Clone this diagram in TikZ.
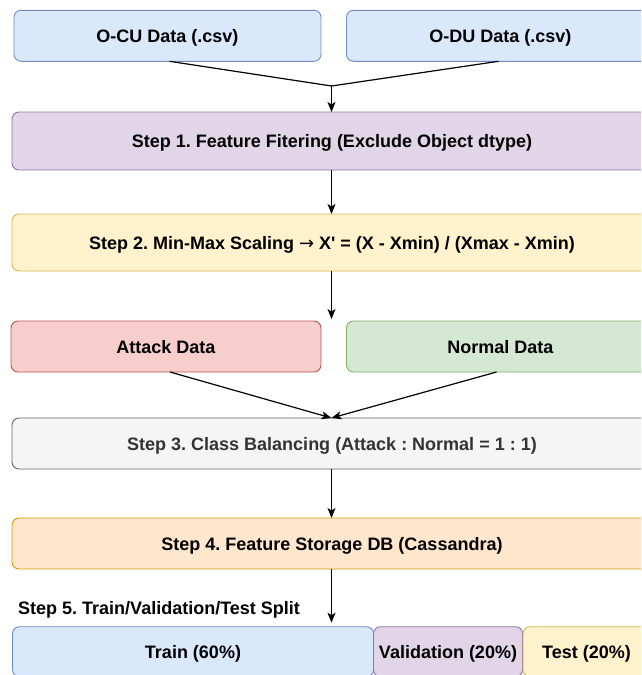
\documentclass[tikz,border=0pt]{standalone}
\usepackage{fontspec}
\setmainfont{Liberation Sans}[Ligatures=TeXOff]
\newfontfamily\arrowfont{DejaVu Sans}
\usetikzlibrary{arrows.meta}
\frenchspacing
\definecolor{bluefill}{HTML}{DAE8FC}\definecolor{bluedraw}{HTML}{6C8EBF}
\definecolor{purpfill}{HTML}{E1D5E7}\definecolor{purpdraw}{HTML}{9673A6}
\definecolor{yelfill}{HTML}{FFF2CC}\definecolor{yeldraw}{HTML}{D6B656}
\definecolor{redfill}{HTML}{F8CECC}\definecolor{reddraw}{HTML}{B85450}
\definecolor{grnfill}{HTML}{D5E8D4}\definecolor{grndraw}{HTML}{82B366}
\definecolor{grayfill}{HTML}{F5F5F5}\definecolor{graydraw}{HTML}{666666}
\definecolor{graytext}{HTML}{333333}
\definecolor{orgfill}{HTML}{FFE6CC}\definecolor{orgdraw}{HTML}{D79B00}
\tikzset{
  lbl/.style={font=\fontsize{18}{21}\selectfont\bfseries},
  box/.style={rectangle, rounded corners=7pt, inner sep=0pt, outer sep=0pt, line width=0.9pt,
    lbl, align=center, text height=13.4pt, text depth=0pt},
  bluebox/.style={box, fill=bluefill, draw=bluedraw},
  purpbox/.style={box, fill=purpfill, draw=purpdraw},
  yelbox/.style={box, fill=yelfill, draw=yeldraw},
  redbox/.style={box, fill=redfill, draw=reddraw},
  grnbox/.style={box, fill=grnfill, draw=grndraw},
  graybox/.style={box, fill=grayfill, draw=graydraw, text=graytext},
  orgbox/.style={box, fill=orgfill, draw=orgdraw},
  conn/.style={line width=1.2pt, black},
  arr/.style={conn, -{Stealth[length=10pt, width=8pt, inset=2.5pt]}},
}
\begin{document}
\begin{tikzpicture}[x=1pt, y=-1pt]
\useasboundingbox (0,0) rectangle (641,675);
\clip (0,0) rectangle (641,675);
% top inputs
\node[bluebox, minimum width=307pt, minimum height=51pt] (ocu) at (167.5,35.8) {O-CU Data (.csv)};
\node[bluebox, minimum width=308pt, minimum height=51pt] (odu) at (500.5,35.8) {O-DU Data (.csv)};
\node[purpbox, minimum width=640pt, minimum height=58pt] (s1) at (332,141) {Step 1. Feature Fitering (Exclude Object dtype)};
\node[yelbox, minimum width=640pt, minimum height=57pt] (s2) at (332,242.5) {Step 2. Min-Max Scaling {\arrowfont\mdseries →} X' = (X - Xmin) / (Xmax - Xmin)};
\node[redbox, minimum width=310pt, minimum height=51pt] (att) at (166,346.5) {Attack Data};
\node[grnbox, minimum width=308pt, minimum height=51pt] (nor) at (500.5,346.5) {Normal Data};
\node[graybox, minimum width=640pt, minimum height=51pt] (s3) at (332,443.5) {Step 3. Class Balancing (Attack : Normal = 1 : 1)};
\node[orgbox, minimum width=640pt, minimum height=51pt] (s4) at (332,543.5) {Step 4. Feature Storage DB (Cassandra)};
\node[lbl, anchor=west, inner sep=0pt, text height=13.4pt, text depth=0pt] (s5) at (18,607.5) {Step 5. Train/Validation/Test Split};
\node[bluebox, minimum width=361pt, minimum height=50pt] (train) at (193,651.7) {Train (60\%)};
\node[purpbox, minimum width=149pt, minimum height=50pt] (val) at (448,651.7) {Validation (20\%)};
\node[yelbox, minimum width=127pt, minimum height=50pt] (test) at (586.5,651.7) {Test (20\%)};
% connectors
\coordinate (j1) at (331.5,86);
\coordinate (t3) at (331.5,319);
\coordinate (t5) at (331.5,622.7);
\draw[conn] ([xshift=2pt]ocu.south) -- (j1);
\draw[conn] ([xshift=-2pt]odu.south) -- (j1);
\draw[arr] (j1) -- (s1.north -| j1);
\draw[arr] (s1.south -| j1) -- (s2.north -| j1);
\draw[arr] (s2.south -| j1) -- (t3);
\draw[arr] ([xshift=4pt]att.south) -- (s3.north -| j1);
\draw[arr] ([xshift=-4pt]nor.south) -- (s3.north -| j1);
\draw[arr] (s3.south -| j1) -- (s4.north -| j1);
\draw[arr] (s4.south -| j1) -- (t5);
\end{tikzpicture}
\end{document}
